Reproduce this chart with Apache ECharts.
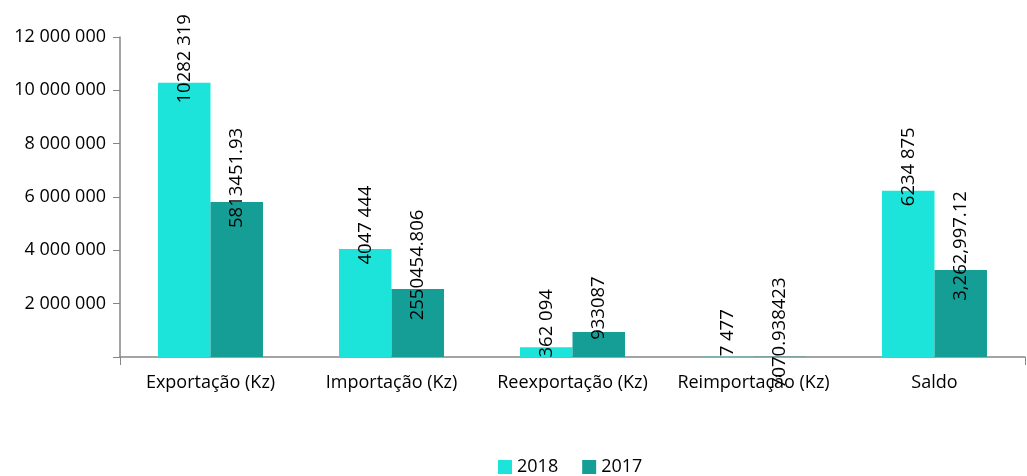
<!DOCTYPE html>
<html>
<head>
<meta charset="utf-8">
<script src="https://cdn.jsdelivr.net/npm/echarts@6/dist/echarts.min.js"></script>
<style>
  html, body { margin: 0; padding: 0; background: #fff; }
  #chart-area { width: 1027px; height: 476px; }
</style>
</head>
<body>
<div id="chart-area"></div>
<script>
// categorias e valores
const categories = ['Exportação (Kz)', 'Importação (Kz)', 'Reexportação (Kz)', 'Reimportação (Kz)', 'Saldo'];
const values2018 = [10282319, 4047444, 362094, 7477, 6234875];
const values2017 = [5813451.93, 2550454.806, 933087, 7070.938423, 3262997.12];
// rótulos tal como aparecem no original
const labels2018 = ['10282 319', '4047 444', '362 094', '7 477', '6234 875'];
const labels2017 = ['5813451.93', '2550454.806', '933087', '7070.938423', '3,262,997.12'];

const font = 'Open Sans';

const fmtAxis = (v) => {
	if (v === 0) return '';
	return String(v).replace(/\B(?=(\d{3})+(?!\d))/g, ' ');
};

const barLabel = (texts) => ({
	show: true,
	position: 'top',
	distance: 24,
	rotate: 90,
	align: 'center',
	verticalAlign: 'middle',
	color: '#000',
	fontFamily: font,
	fontSize: 18.5,
	formatter: (p) => texts[p.dataIndex]
});

const myChart = echarts.init(document.getElementById('chart-area'));
const option = {
	animation: false,
	legend: {
		data: ['2018', '2017'],
		left: 493,
		top: 453,
		itemWidth: 14,
		itemHeight: 14,
		itemGap: 24,
		icon: 'rect',
		textStyle: { fontFamily: font, fontSize: 18, color: '#000' }
	},
	grid: { left: 120, right: 2, top: 37, bottom: 119 },
	xAxis: {
		type: 'category',
		data: categories,
		axisLine: { lineStyle: { color: '#868686', width: 1.5 } },
		axisTick: { show: true, length: 8, interval: (i) => i === 0, lineStyle: { color: '#868686' } },
		axisLabel: { interval: 0, color: '#000', fontFamily: font, fontSize: 18, margin: 17 }
	},
	yAxis: {
		type: 'value',
		min: 0,
		max: 12000000,
		interval: 2000000,
		splitLine: { show: false },
		axisLine: { show: true, lineStyle: { color: '#868686', width: 1.5 } },
		axisTick: { show: true, length: 7, lineStyle: { color: '#868686' } },
		axisLabel: { color: '#000', fontFamily: font, fontSize: 18, margin: 14, formatter: fmtAxis }
	},
	series: [
		{
			name: '2018',
			type: 'bar',
			barWidth: '29%',
			barGap: '0%',
			itemStyle: { color: '#1de4da' },
			label: barLabel(labels2018),
			data: values2018
		},
		{
			name: '2017',
			type: 'bar',
			barWidth: '29%',
			barGap: '0%',
			itemStyle: { color: '#159e96' },
			label: barLabel(labels2017),
			data: values2017
		}
	]
};
myChart.setOption(option);
</script>
</body>
</html>
